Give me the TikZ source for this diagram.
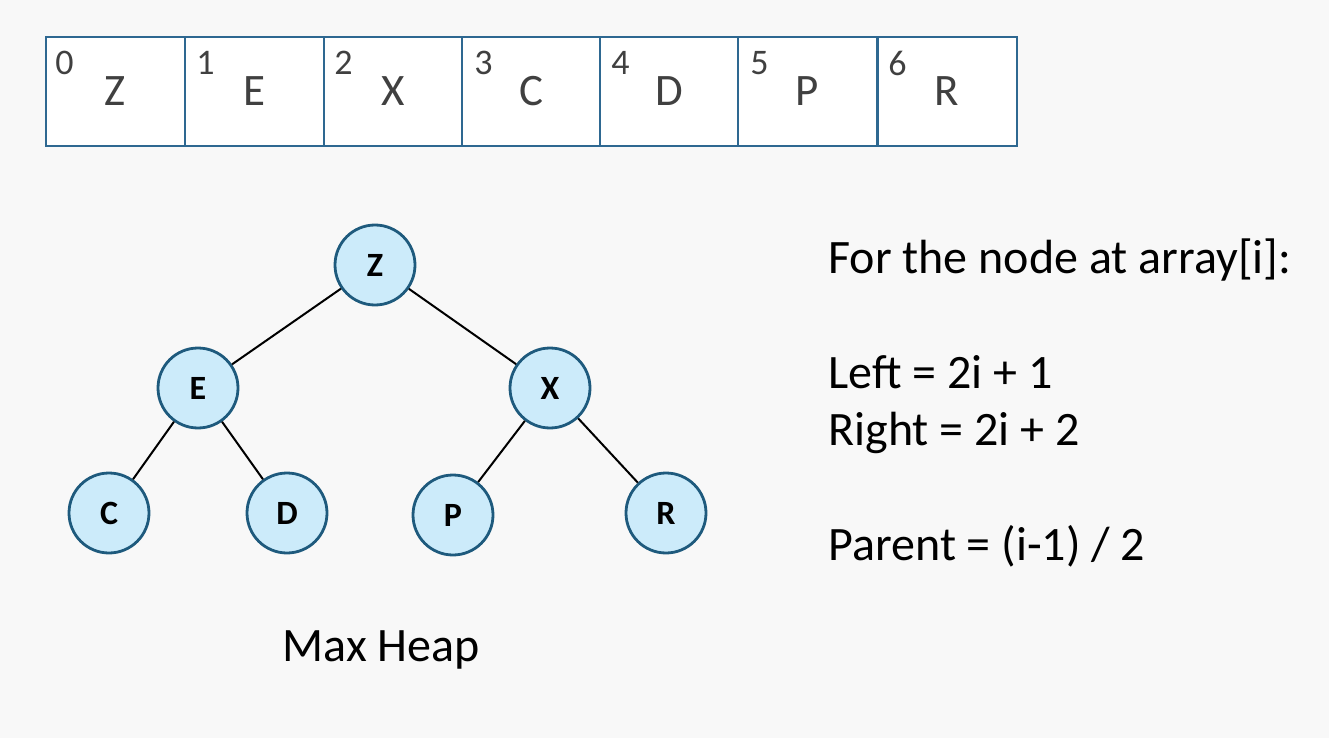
\documentclass[tikz,border=0pt]{standalone}
\usepackage{fontspec}
\setmainfont{Carlito}
\usepackage{tikz}
\usetikzlibrary{positioning}
\definecolor{bgcol}{RGB}{248,248,248}
\definecolor{cellline}{RGB}{46,104,145}
\definecolor{nodefill}{RGB}{204,235,250}
\definecolor{nodeline}{RGB}{30,90,125}
\definecolor{txtgray}{RGB}{64,64,64}

\begin{document}
\begin{tikzpicture}[x=0.5pt, y=-0.5pt,
        cellbox/.style={draw=cellline, line width=1pt, fill=white, minimum width=69.5pt, minimum height=54.5pt, inner sep=0pt, font=\fontsize{22.5}{26}\selectfont, text=txtgray},
        idx/.style={anchor=north west, inner sep=0pt, font=\fontsize{18}{21}\selectfont, text=txtgray},
        heapnode/.style={circle, draw=nodeline, line width=1.4pt, fill=nodefill, minimum size=40pt, inner sep=0pt, font=\fontsize{17}{20}\selectfont\bfseries},
        edge/.style={line width=1pt, black},
        rtext/.style={anchor=base west, inner sep=0pt, font=\fontsize{24}{29}\selectfont}]
        \useasboundingbox[fill=bgcol] (0,0) rectangle (1329,738);

        % array
        \node[cellbox] at (115, 91.5) (a0) {Z};
        \node[cellbox] at (254.5, 91.5) (a1) {E};
        \node[cellbox] at (393.5, 91.5) (a2) {X};
        \node[cellbox] at (531.5, 91.5) (a3) {C};
        \node[cellbox] at (669, 91.5) (a4) {D};
        \node[cellbox] at (807.5, 91.5) (a5) {P};
        \node[cellbox] at (947, 91.5) (a6) {R};
        \node[idx] at (55, 51) (i0) {0};
        \node[idx] at (196, 51) (i1) {1};
        \node[idx] at (334, 51) (i2) {2};
        \node[idx] at (474, 51) (i3) {3};
        \node[idx] at (611, 51) (i4) {4};
        \node[idx] at (750, 51) (i5) {5};
        \node[idx] at (888, 51) (i6) {6};

        % heap
        \node[heapnode] at (375, 265) (Z) {Z};
        \node[heapnode] at (198, 388) (E) {E};
        \node[heapnode] at (550, 388) (X) {X};
        \node[heapnode] at (109, 513) (C) {C};
        \node[heapnode] at (287, 513) (D) {D};
        \node[heapnode] at (453, 515) (P) {P};
        \node[heapnode] at (666, 513) (R) {R};
        \draw[edge] (Z) -- (E);
        \draw[edge] (Z) -- (X);
        \draw[edge] (E) -- (C);
        \draw[edge] (E) -- (D);
        \draw[edge] (X) -- (P);
        \draw[edge] (X) -- (R);

        \node[rtext] at (282, 661) (title) {Max Heap};

        % formulas
        \node[rtext] at (828, 273) (f1) {For the node at array[i]:};
        \node[rtext] at (828, 388) (f2) {Left = 2i + 1};
        \node[rtext] at (828, 445) (f3) {Right = 2i + 2};
        \node[rtext] at (828, 560) (f4) {Parent = (i-1) / 2};
    \end{tikzpicture}
\end{document}
